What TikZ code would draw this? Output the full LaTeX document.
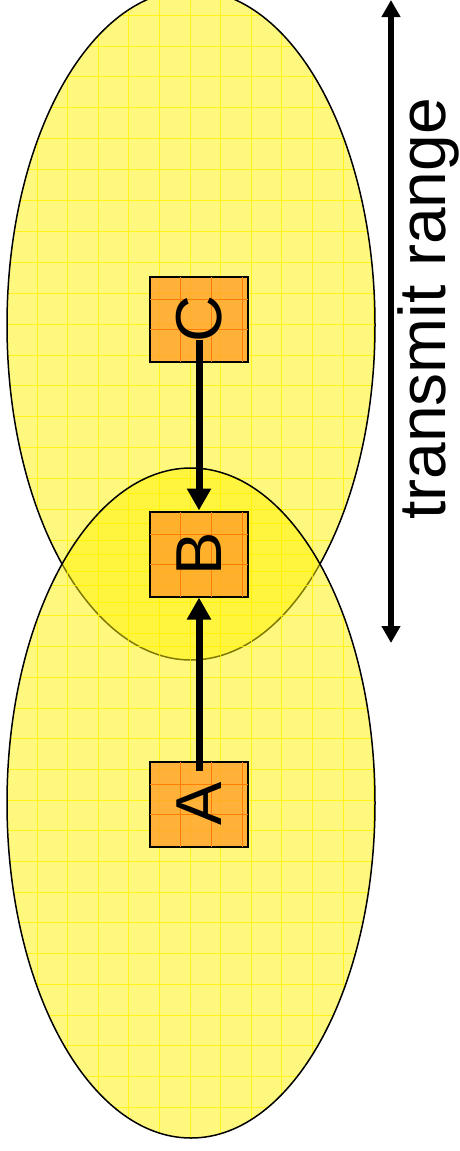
\documentclass[tikz,border=0pt]{standalone}
\usepackage{fontspec}
\setmainfont{Liberation Sans}
\usetikzlibrary{arrows.meta}
\definecolor{boxfill}{RGB}{255,160,40}
\definecolor{boxgrid}{RGB}{255,125,0}

\begin{document}
\begin{tikzpicture}[x=1pt,y=-1pt]
	\tikzset{rangearea/.style={fill=yellow,fill opacity=.5}}
	\tikzset{rangeedge/.style={draw=black,line width=1.5pt}}
	\tikzset{rangegrid/.style={yellow,line width=.8pt,opacity=.8}}
	\tikzset{station/.style={draw=black,line width=2pt,fill=boxfill,fill opacity=.8,%
	    minimum width=98pt,minimum height=85pt,inner sep=0pt}}
	\tikzset{letter/.style={rotate=90,inner sep=0pt,font=\fontsize{65}{65}\selectfont}}
	\tikzset{hop/.style={line width=7pt,-{Triangle[width=23pt,length=22pt]}}}
	\tikzset{spanarrow/.style={line width=5.5pt,%
	    {Triangle[width=18pt,length=17pt]}-{Triangle[width=18pt,length=17pt]}}}

	\useasboundingbox (0,0) rectangle (459,1151);

	% transmit ranges
	\fill[rangearea] (191,325) ellipse [x radius=184, y radius=335];
	\begin{scope}
		\clip (191,325) ellipse [x radius=184, y radius=335];
		\foreach \gx in {0,...,11} \draw[rangegrid] (37+30.6*\gx,-10) -- (37+30.6*\gx,660);
		\foreach \gy in {0,...,21} \draw[rangegrid] (7,15+30.9*\gy) -- (375,15+30.9*\gy);
	\end{scope}
	\draw[rangeedge] (191,325) ellipse [x radius=184, y radius=335];

	\fill[rangearea] (191,803) ellipse [x radius=184, y radius=335];
	\begin{scope}
		\clip (191,803) ellipse [x radius=184, y radius=335];
		\foreach \gx in {0,...,11} \draw[rangegrid] (37+30.6*\gx,468) -- (37+30.6*\gx,1138);
		\foreach \gy in {0,...,21} \draw[rangegrid] (7,493+30.7*\gy) -- (375,493+30.7*\gy);
	\end{scope}
	\draw[rangeedge] (191,803) ellipse [x radius=184, y radius=335];

	% stations
	\node[station] (boxC) at (199,319) {};
	\node[station] (boxB) at (199,554) {};
	\node[station] (boxA) at (199,804) {};
	\foreach \b in {boxC,boxB,boxA} {
		\foreach \dx in {-19,12,43}
			\draw[boxgrid,shorten <=1pt,shorten >=1pt] ([xshift=\dx]\b.north) -- ([xshift=\dx]\b.south);
		\foreach \dy in {-24,-54}
			\draw[boxgrid,shorten <=1pt,shorten >=1pt] ([yshift=\dy]\b.north west) -- ([yshift=\dy]\b.north east);
	}
	\node[letter] (C) at (boxC.center) {C};
	\node[letter] (B) at (boxB.center) {B};
	\node[letter] (A) at (boxA.center) {A};

	% hops
	\draw[hop] ([yshift=-21]boxC.center) -- (boxB.north);
	\draw[hop] ([yshift=33]boxA.center) -- (boxB.south);

	% range arrow
	\coordinate (rangetop) at (391,0);
	\coordinate (rangebottom) at (391,643);
	\draw[spanarrow] (rangetop) -- (rangebottom);
	\node[letter,font=\fontsize{66}{66}\selectfont,anchor=base] (rangelabel) at (445,309) {transmit range};
\end{tikzpicture}
\end{document}
